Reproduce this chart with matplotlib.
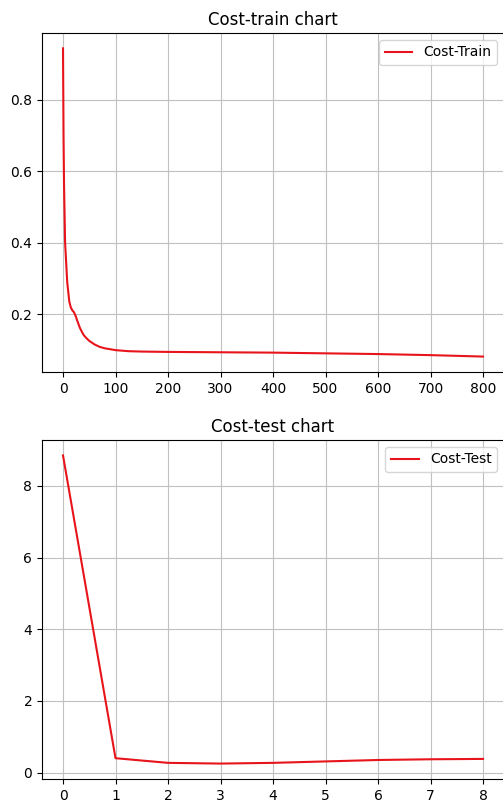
import matplotlib
matplotlib.use("Agg")
import matplotlib.pyplot as plt

# === Data ===
train_iter = [0, 1, 2, 4, 8, 12, 15, 18, 21, 24, 28, 32, 36, 40, 45, 50, 60,
              70, 80, 100, 125, 150, 200, 300, 400, 500, 600, 700, 800]
train_cost = [0.944, 0.70, 0.56, 0.40, 0.29, 0.235, 0.218, 0.21, 0.205, 0.195,
              0.178, 0.162, 0.150, 0.140, 0.132, 0.125, 0.115, 0.108, 0.104,
              0.099, 0.096, 0.095, 0.094, 0.093, 0.092, 0.090, 0.088, 0.085,
              0.081]

test_iter = [0, 1, 2, 3, 4, 5, 6, 7, 8]
test_cost = [8.85, 0.40, 0.27, 0.25, 0.27, 0.31, 0.35, 0.37, 0.38]

fig = plt.figure(figsize=(5.03, 8.02), dpi=100)
ax1 = fig.add_axes([0.0835, 0.5362, 0.9185, 0.4227])
ax2 = fig.add_axes([0.0835, 0.0287, 0.9185, 0.4227])

# === Train chart ===
ax1.plot(train_iter, train_cost, color="#e8141b", linewidth=1.5, label="Cost-Train")
ax1.set_title("Cost-train chart", fontsize=12)
ax1.set_yticks([0.2, 0.4, 0.6, 0.8])
ax1.set_xticks(range(0, 801, 100))
ax1.legend(loc="upper right")
ax1.grid(True, color="#c0c0c0")

# === Test chart ===
ax2.plot(test_iter, test_cost, color="#e8141b", linewidth=1.5, label="Cost-Test")
ax2.set_title("Cost-test chart", fontsize=12)
ax2.set_yticks([0, 2, 4, 6, 8])
ax2.set_xticks(range(0, 9))
ax2.legend(loc="upper right")
ax2.grid(True, color="#c0c0c0")

fig.savefig("out.png", dpi=100)
